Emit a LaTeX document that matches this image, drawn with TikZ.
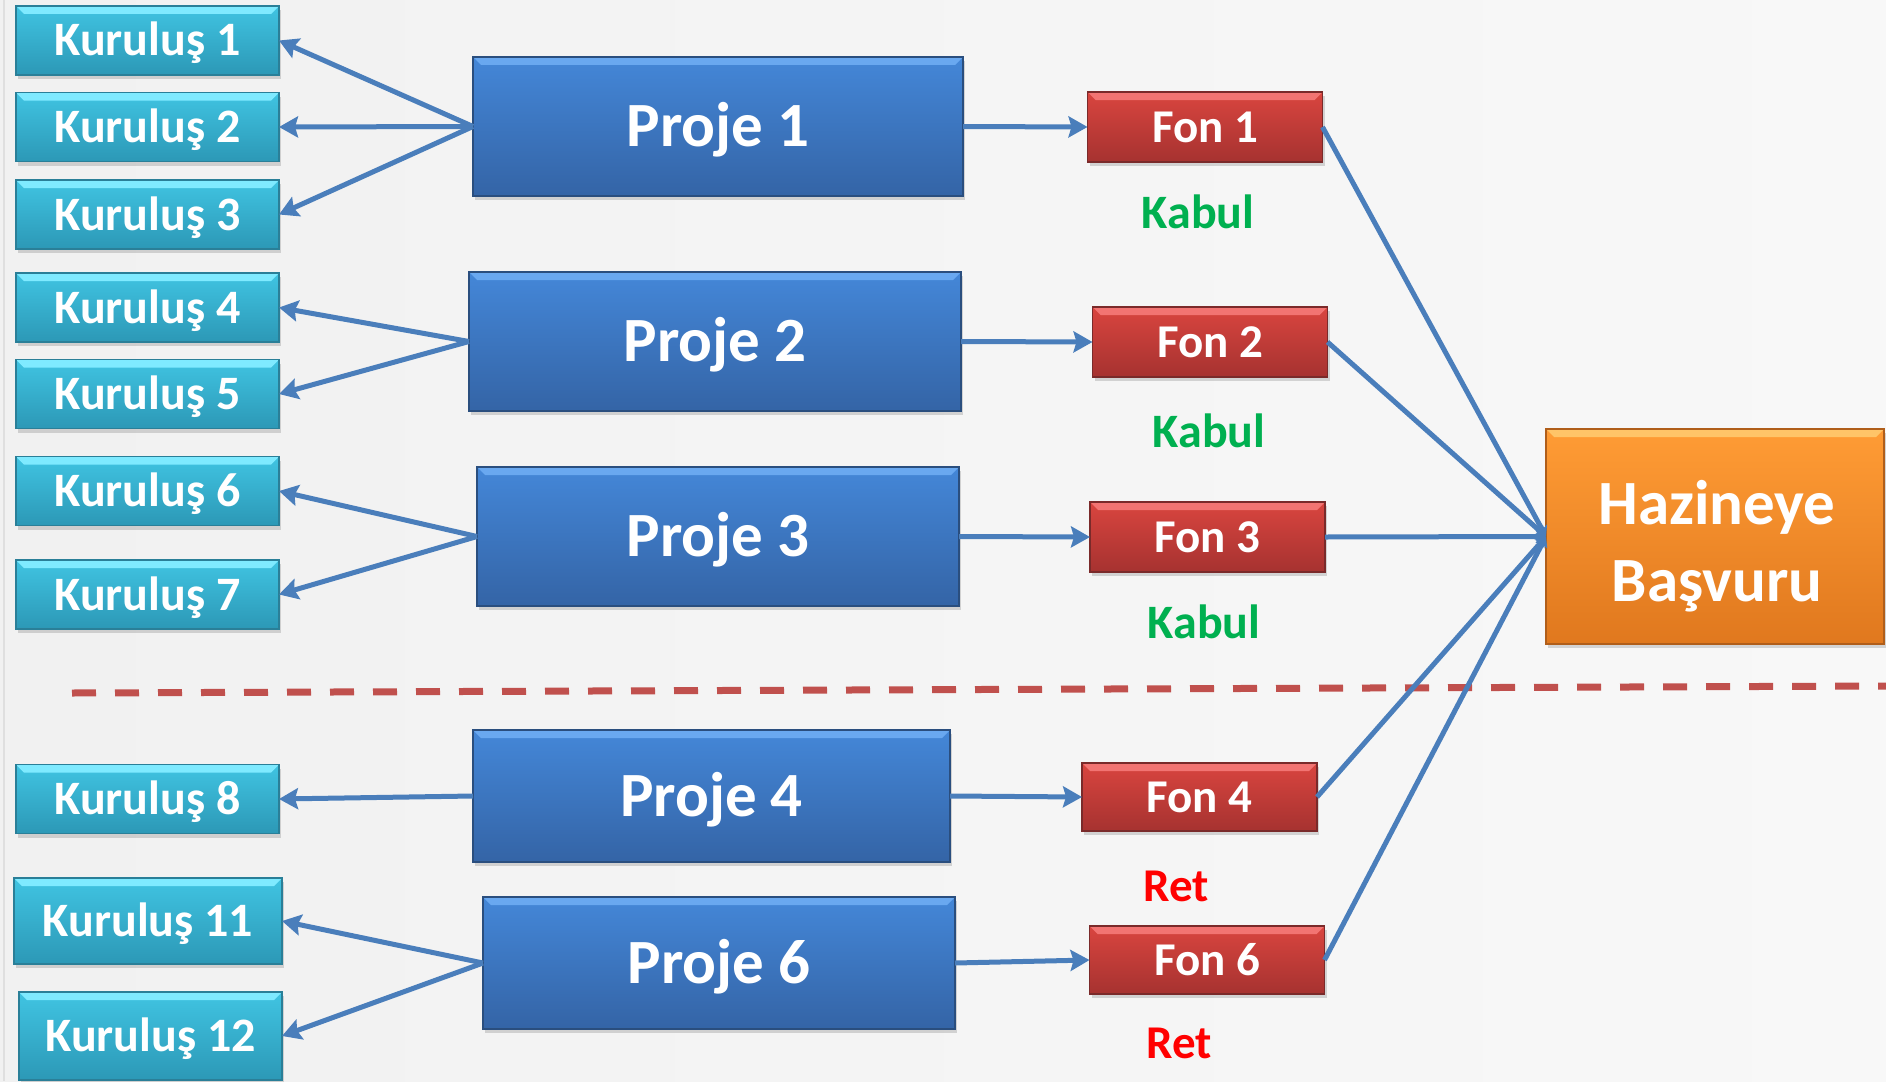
\documentclass[tikz,border=0pt]{standalone}
\usepackage{fontspec}
\setmainfont{Carlito}
\usetikzlibrary{arrows.meta,shadows}
\definecolor{bgc}{HTML}{F1F1F1}
\definecolor{bgr}{HTML}{F8F8F8}
\definecolor{arrc}{HTML}{4A7EBB}
\definecolor{dashc}{HTML}{C0504D}
\definecolor{kabulc}{HTML}{00B050}
\definecolor{retc}{HTML}{FF0000}
\definecolor{kt}{HTML}{40C4E2}\definecolor{kb}{HTML}{2C98B6}\definecolor{kl}{HTML}{7FEAFF}\definecolor{kd}{HTML}{2A7F98}
\definecolor{pt}{HTML}{4487D8}\definecolor{pb}{HTML}{3464A6}\definecolor{pl}{HTML}{69A8F0}\definecolor{pd}{HTML}{2A4E7E}
\definecolor{ft}{HTML}{D9453F}\definecolor{fb}{HTML}{A63230}\definecolor{fl}{HTML}{F27472}\definecolor{fd}{HTML}{7A2A2A}
\definecolor{ht}{HTML}{FF9C35}\definecolor{hb}{HTML}{E0781E}\definecolor{hl}{HTML}{FFC468}\definecolor{hd}{HTML}{B05E1A}
\tikzset{
  x=1pt, y=-1pt,
  bevel/.style={path picture={
    \fill[#1] (path picture bounding box.north west) -- (path picture bounding box.north east)
      -- ([xshift=-8pt,yshift=-8pt]path picture bounding box.north east)
      -- ([xshift=8pt,yshift=-8pt]path picture bounding box.north west) -- cycle;}},
  base/.style={inner sep=0pt, outer sep=0pt, text=white, font=\bfseries, align=center, line width=1.2pt,
    drop shadow={opacity=0.3, shadow xshift=2pt, shadow yshift=-4pt}},
  kbox/.style={base, draw=kd, top color=kt, bottom color=kb, bevel=kl, minimum width=263pt, minimum height=69pt,
    font=\bfseries\fontsize{48}{50}\selectfont, text height=31pt, text depth=0pt},
  pbox/.style={base, draw=pd, top color=pt, bottom color=pb, bevel=pl,
    font=\bfseries\fontsize{63}{66}\selectfont, text height=40.5pt, text depth=0pt},
  fbox/.style={base, draw=fd, top color=ft, bottom color=fb, bevel=fl, minimum width=235pt, minimum height=70pt,
    font=\bfseries\fontsize{47}{50}\selectfont, text height=30pt, text depth=0pt},
  hbox/.style={base, draw=hd, top color=ht, bottom color=hb, bevel=hl,
    font=\bfseries\fontsize{63}{77}\selectfont},
  arr/.style={draw=arrc, line width=5pt, -{Stealth[length=19pt,width=21pt,inset=3pt]}},
  harr/.style={draw=arrc, line width=5pt, -{Stealth[length=10pt,width=13pt,inset=2pt]}},
  kabul/.style={text=kabulc, font=\bfseries\fontsize{48}{50}\selectfont},
  ret/.style={text=retc, font=\bfseries\fontsize{47}{50}\selectfont},
}
\begin{document}
\begin{tikzpicture}
\useasboundingbox (0,0) rectangle (1886,1081);
\shade[left color=bgc, right color=bgr] (0,0) rectangle (1886,1081);
\draw[gray!25, line width=2pt] (4,0) -- (4,1081);

% Kuruluş boxes
\node[kbox] (k1) at (147.5,40.5) {Kuruluş 1};
\node[kbox] (k2) at (147.5,127) {Kuruluş 2};
\node[kbox] (k3) at (147.5,214.5) {Kuruluş 3};
\node[kbox] (k4) at (147.5,307.5) {Kuruluş 4};
\node[kbox] (k5) at (147.5,394) {Kuruluş 5};
\node[kbox] (k6) at (147.5,491) {Kuruluş 6};
\node[kbox] (k7) at (147.5,594.5) {Kuruluş 7};
\node[kbox] (k8) at (147.5,799) {Kuruluş 8};
\node[kbox, minimum width=268pt, minimum height=86pt] (k11) at (148,921) {Kuruluş 11};
\node[kbox, minimum width=263pt, minimum height=88pt] (k12) at (150.5,1036) {Kuruluş 12};

% Proje boxes
\node[pbox, minimum width=490pt, minimum height=139pt] (p1) at (718,126.5) {Proje 1};
\node[pbox, minimum width=492pt, minimum height=139pt] (p2) at (715,341.5) {Proje 2};
\node[pbox, minimum width=482pt, minimum height=139pt] (p3) at (718,536.5) {Proje 3};
\node[pbox, minimum width=477pt, minimum height=132pt] (p4) at (711.5,796) {Proje 4};
\node[pbox, minimum width=472pt, minimum height=132pt] (p6) at (719,963) {Proje 6};

% Fon boxes
\node[fbox] (f1) at (1205,127) {Fon 1};
\node[fbox] (f2) at (1210,342) {Fon 2};
\node[fbox] (f3) at (1207.5,537) {Fon 3};
\node[fbox, minimum height=68pt] (f4) at (1199.5,797) {Fon 4};
\node[fbox, minimum height=68pt] (f6) at (1207,960) {Fon 6};

% Hazineye
\node[hbox, minimum width=338pt, minimum height=215pt] (h) at (1715,536.5) {};
\node[text=white, font=\bfseries\fontsize{63}{77}\selectfont, align=center] (ht) at (1717,546) {Hazineye\\Başvuru};

% labels
\node[kabul] (l1) at (1198,212) {Kabul};
\node[kabul] (l2) at (1209,431) {Kabul};
\node[kabul] (l3) at (1204,622) {Kabul};
\node[ret] (l4) at (1176,886) {Ret};
\node[ret] (l6) at (1179,1043) {Ret};

% dashed separator
\coordinate (dl) at (72,693);
\coordinate (dr) at (1886,686);
\draw[dashc, line width=7pt, dash pattern=on 24pt off 19pt] (dl) -- (dr);

% Proje -> Kuruluş
\draw[arr] (p1.west) -- (k1.east);
\draw[arr] (p1.west) -- (k2.east);
\draw[arr] (p1.west) -- (k3.east);
\draw[arr] (p2.west) -- (k4.east);
\draw[arr] (p2.west) -- (k5.east);
\draw[arr] (p3.west) -- (k6.east);
\draw[arr] (p3.west) -- (k7.east);
\draw[arr] (p4.west) -- (k8.east);
\draw[arr] (p6.west) -- (k11.east);
\draw[arr] (p6.west) -- (k12.east);

% Proje -> Fon
\draw[arr] (p1.east) -- (f1.west);
\draw[arr] (p2.east) -- (f2.west);
\draw[arr] (p3.east) -- (f3.west);
\draw[arr] (p4.east) -- (f4.west);
\draw[arr] (p6.east) -- (f6.west);

% Fon -> Hazineye
\draw[harr] (f1.east) -- (h.west);
\draw[harr] (f2.east) -- (h.west);
\draw[harr] (f3.east) -- (h.west);
\draw[harr] (f4.east) -- (h.west);
\draw[harr] (f6.east) -- (h.west);
\end{tikzpicture}
\end{document}
